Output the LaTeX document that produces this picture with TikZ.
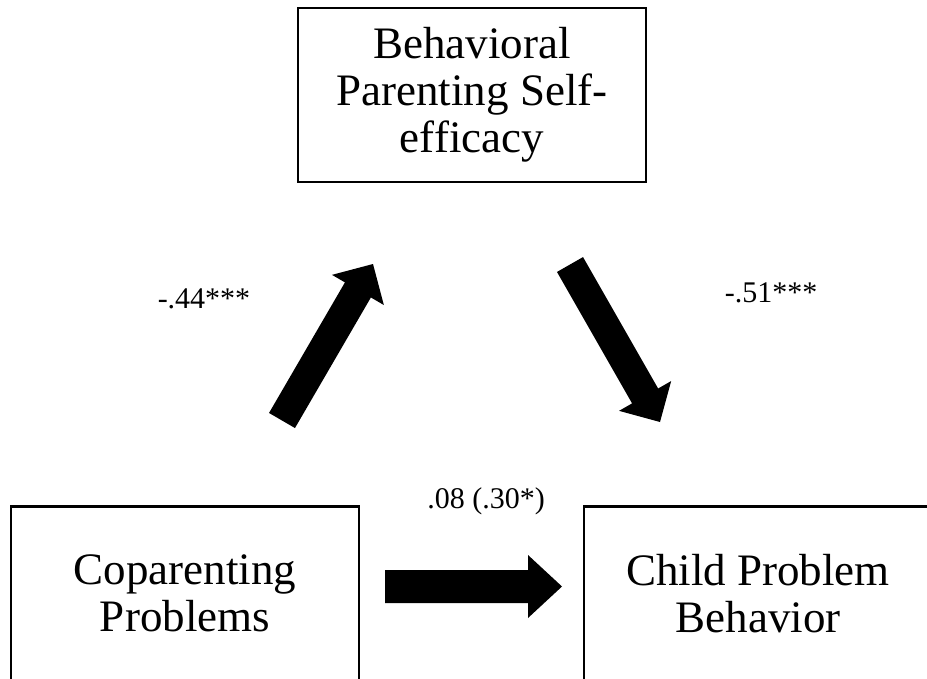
\documentclass[tikz,border=0pt]{standalone}
\usepackage{fontspec}
\setmainfont{Liberation Serif}
\usetikzlibrary{calc}
\newcommand{\fatarrowdraw}[5]{%
  \path ($(#2)!#5!(#1)$) coordinate (tmpH);
  \fill ($(#1)!#3!90:(#2)$) -- ($(tmpH)!#3!90:(#2)$) -- ($(tmpH)!#4!90:(#2)$) -- (#2)
    -- ($(tmpH)!#4!-90:(#2)$) -- ($(tmpH)!#3!-90:(#2)$) -- ($(#1)!#3!-90:(#2)$) -- cycle;
}
\tikzset{
  varbox/.style={draw, line width=2.2pt, minimum width=348pt, minimum height=174pt,
    inner sep=0pt, align=center, font=\fontsize{45}{47}\selectfont},
  coeff/.style={anchor=base, inner sep=0pt, font=\fontsize{30}{34}\selectfont}
}
\begin{document}
\begin{tikzpicture}[x=1pt,y=-1pt]
\useasboundingbox (0,0) rectangle (927,678);
\fill[white] (0,0) rectangle (927,678);
\clip (0,0) rectangle (927,678);
\node[varbox] (bps) at (472,95) {Behavioral\\Parenting Self-\\efficacy};
\node[varbox] (cop) at (185,593.5) {Coparenting\\Problems};
\node[varbox] (cpb) at (758,593.5) {Child Problem\\Behavior};
\node[coeff] (la) at (204,308) {-.44***};
\node[coeff] (lb) at (771,302) {-.51***};
\node[coeff] (lc) at (486,508) {.08 (.30*)};
\coordinate (a1s) at (282,420.5);
\coordinate (a1e) at (373,264);
\coordinate (a2s) at (570,264.5);
\coordinate (a2e) at (660,422);
\coordinate (a3s) at (385,586.5);
\coordinate (a3e) at (562,586.5);
\fatarrowdraw{a1s}{a1e}{15pt}{30pt}{30pt}
\fatarrowdraw{a2s}{a2e}{15pt}{30pt}{30pt}
\fatarrowdraw{a3s}{a3e}{16.5pt}{31.5pt}{34pt}
\end{tikzpicture}
\end{document}
